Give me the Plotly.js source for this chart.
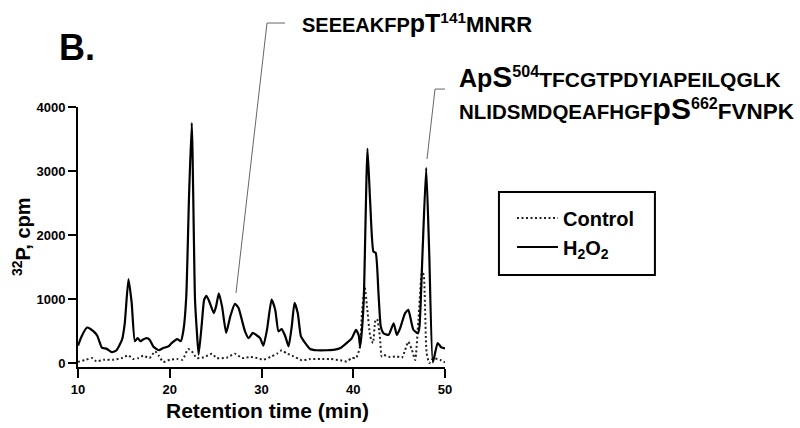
<!DOCTYPE html>
<html>
<head>
<meta charset="utf-8">
<script src="https://cdn.plot.ly/plotly-3.0.1.min.js"></script>
<style>html,body{margin:0;padding:0;background:#fff;}#chart{width:800px;height:428px;}</style>
</head>
<body>
<div id="chart"></div>
<script>
// Retention time (min) and 32P counts (cpm)
const h2o2Time = [10.0,10.4,11.0,11.7,12.1,12.6,13.1,13.7,14.2,14.8,15.1,15.5,15.85,16.2,16.5,16.8,17.05,17.5,17.8,18.2,18.8,19.3,19.85,20.2,20.8,21.2,21.5,21.8,22.1,22.4,22.75,22.95,23.15,23.5,23.75,24.0,24.3,24.8,25.05,25.35,25.7,26.15,26.6,27.1,27.5,27.85,28.2,28.6,29.05,29.5,29.85,30.2,30.6,31.1,31.5,31.85,32.2,32.6,32.95,33.3,33.6,33.95,34.3,34.75,35.3,36.0,37.1,38.0,38.6,39.3,39.85,40.3,40.6,40.75,40.95,41.15,41.55,41.85,42.2,42.45,42.75,43.0,43.3,43.85,44.4,44.75,45.1,45.65,46.0,46.55,47.05,47.22,47.55,47.95,48.28,48.68,49.2,49.6,50.0];
const h2o2Cpm = [270,420,555,495,427,240,225,170,200,365,625,1310,940,340,390,340,365,390,365,260,200,235,260,310,375,340,520,1040,2600,3750,1000,500,130,625,990,1050,965,780,885,1090,885,470,730,925,860,680,495,390,470,430,390,270,520,990,830,495,530,415,260,575,940,780,415,315,220,200,200,210,235,315,390,520,430,250,520,1000,3350,2500,1740,1720,1090,570,465,440,620,440,540,780,830,520,465,570,1720,3050,1720,10,310,245,230];

const controlTime = [10.0,10.2,10.9,11.5,12.0,12.8,13.9,14.8,15.5,16.0,16.6,17.1,17.8,18.4,18.8,19.3,20.0,20.8,21.4,22.0,22.4,22.95,23.7,24.6,25.1,26.2,27.1,27.9,28.8,29.5,30.2,31.1,31.7,32.2,32.7,33.5,34.4,35.3,36.4,37.5,38.6,39.3,39.85,40.3,40.7,40.95,41.25,41.5,41.85,42.15,42.4,42.6,42.9,43.1,43.3,44.0,44.75,45.3,45.65,46.0,46.4,46.75,47.1,47.5,47.7,48.0,48.3,48.7,49.5,50.0];
const controlCpm = [20,26,52,80,26,52,52,78,120,63,78,115,78,182,115,16,52,63,52,219,182,78,89,146,78,83,146,78,94,78,52,104,146,198,156,104,42,63,63,63,42,26,78,78,234,781,1190,886,417,313,651,688,417,104,125,94,104,83,203,333,203,47,672,1453,1350,156,0,73,47,10];

const xTicks = [10,20,30,40,50];
const yTicks = [0,1000,2000,3000,4000];
const seriesNames = ['Control','H<sub>2</sub>O<sub>2</sub>'];

const FONT = 'Arial, "Liberation Sans", sans-serif';

const traces = [
  {x: controlTime, y: controlCpm, name: seriesNames[0], type: 'scatter', mode: 'lines',
   line: {color: '#222', width: 2, dash: '2px,2.5px', shape: 'spline', smoothing: 0.5}},
  {x: h2o2Time, y: h2o2Cpm, name: seriesNames[1], type: 'scatter', mode: 'lines',
   line: {color: '#000', width: 2.2, shape: 'spline', smoothing: 0.5}}
];

const layout = {
  width: 800, height: 428,
  margin: {l: 78, r: 355, t: 107, b: 61},
  paper_bgcolor: '#fff', plot_bgcolor: '#fff',
  font: {family: FONT, color: '#000'},
  showlegend: true,
  legend: {x: 1.1826, y: 0.648, xanchor: 'left', yanchor: 'top', bgcolor: 'rgba(0,0,0,0)', itemwidth: 41,
           borderwidth: 0, font: {family: FONT, size: 20, weight: 'bold', color: '#000'}},
  xaxis: {range: [10, 50], tickvals: xTicks, ticktext: xTicks.map(String), ticks: 'outside', ticklen: 9, tickwidth: 2,
          tickcolor: '#000', showline: true, linewidth: 2, linecolor: '#000', showgrid: false, zeroline: false,
          tickfont: {family: FONT, size: 13, weight: 'bold'}},
  yaxis: {range: [-62, 4000], tickvals: yTicks, ticktext: yTicks.map(String), ticks: 'outside', ticklen: 8, tickwidth: 2,
          tickcolor: '#000', showline: true, linewidth: 2, linecolor: '#000', showgrid: false, zeroline: false,
          tickfont: {family: FONT, size: 13, weight: 'bold'}},
  shapes: [
    {type: 'path', xref: 'paper', yref: 'paper', path: 'M 0.564 1.323 L 0.515 1.323 L 0.4305 0.2846', line: {color: '#666', width: 1}},
    {type: 'path', xref: 'paper', yref: 'paper', path: 'M 1.0 1.069 L 0.9728 1.069 L 0.951 0.80', line: {color: '#666', width: 1}},
    {type: 'rect', xref: 'paper', yref: 'paper', x0: 1.147, x1: 1.572, y0: 0.354, y1: 0.673, line: {color: '#000', width: 2}}
  ],
  annotations: [
    {xref: 'paper', yref: 'paper', x: -0.0572, y: 1.2288, xanchor: 'left', yanchor: 'middle', showarrow: false,
     text: 'B.', font: {family: FONT, size: 36, weight: 'bold'}},
    {xref: 'paper', yref: 'paper', x: 0.605, y: 1.323, xanchor: 'left', yanchor: 'middle', showarrow: false,
     text: '<span style="font-size:20px">SEEEAKFP</span><span style="font-size:25px">pT</span><sup>141</sup><span style="font-size:22px">MNRR</span>',
     font: {family: FONT, size: 22, weight: 'bold'}},
    {xref: 'paper', yref: 'paper', x: 1.0327, y: 1.119, xanchor: 'left', yanchor: 'middle', showarrow: false,
     text: '<span style="font-size:25px">Ap</span><span style="font-size:30px">S</span><sup>504</sup><span style="font-size:21px">TFCGTPDYIAPEILQGLK</span>',
     font: {family: FONT, size: 23, weight: 'bold'}},
    {xref: 'paper', yref: 'paper', x: 1.0327, y: 0.996, xanchor: 'left', yanchor: 'middle', showarrow: false,
     text: '<span style="font-size:20.5px">NLIDSMDQEAFHGF</span><span style="font-size:30px">pS</span><sup>662</sup><span style="font-size:22.5px">FVNPK</span>',
     font: {family: FONT, size: 23, weight: 'bold'}},
    {xref: 'paper', yref: 'paper', x: (267 - 78) / 367, y: (367 - 410) / 260, xanchor: 'center', yanchor: 'middle', showarrow: false,
     text: 'Retention time (min)', font: {family: FONT, size: 21, weight: 'bold'}},
    {xref: 'paper', yref: 'paper', x: (21 - 78) / 367, y: (367 - 237) / 260, xanchor: 'center', yanchor: 'middle', showarrow: false,
     textangle: -90, text: '<sup>32</sup>P, cpm', font: {family: FONT, size: 20, weight: 'bold'}}
  ]
};

Plotly.newPlot('chart', traces, layout, {staticPlot: true, displayModeBar: false});
</script>
</body>
</html>
